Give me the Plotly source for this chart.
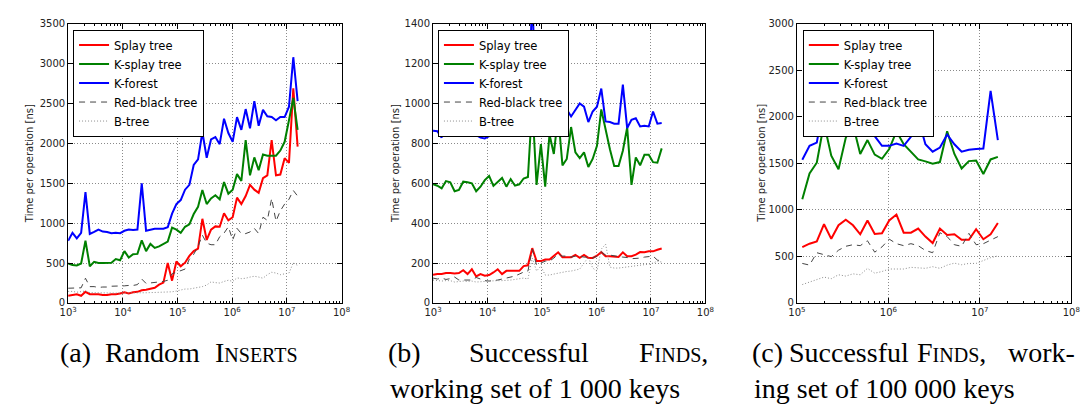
import plotly.graph_objects as go

# problem sizes (number of keys), same grid for all three panels
sizes = [1000, 1200, 1440, 1728, 2074, 2488, 2986, 3583, 4300, 5160,
         6192, 7430, 8916, 10699, 12839, 15407, 18488, 22186, 26623, 31948,
         38338, 46005, 55206, 66247, 79497, 95396, 114475, 137371, 164845, 197814,
         237376, 284852, 341822, 410186, 492224, 590668, 708802, 850562, 1020675, 1224810,
         1469772, 1763726, 2116471, 2539765, 3047718, 3657262, 4388714, 5266457, 6319749, 7583698,
         9100438, 10920526, 13104631, 15725557]

# (a) random inserts, time per operation [ns]
ins_splay = [90, 100, 110, 90, 140, 110, 110, 110, 100, 100,
             110, 110, 120, 135, 120, 135, 140, 160, 165, 175,
             190, 230, 255, 500, 280, 520, 460, 505, 590, 650,
             680, 1055, 790, 920, 960, 955, 1125, 1035, 1075, 1320,
             1240, 1340, 1480, 1420, 1380, 1565, 1600, 2040, 1600, 1610,
             1815, 1755, 2690, 1960]
ins_ksplay = [495, 475, 470, 495, 780, 460, 515, 500, 500, 500,
              505, 550, 535, 650, 570, 610, 615, 785, 650, 740,
              690, 710, 740, 770, 945, 920, 880, 955, 985, 1115,
              1205, 1415, 1240, 1310, 1350, 1300, 1515, 1370, 1420, 1615,
              1530, 2040, 1600, 1825, 1665, 1860, 1845, 1845, 1845, 1910,
              2020, 2290, 2570, 2170]
ins_kforest = [780, 880, 810, 880, 1390, 865, 890, 920, 895, 890,
               875, 880, 875, 905, 920, 915, 920, 1500, 905, 920,
               930, 930, 930, 950, 1120, 1240, 1290, 1420, 1480, 1730,
               1800, 2140, 1820, 2050, 2080, 1990, 2310, 2130, 2020, 2330,
               2170, 2430, 2190, 2530, 2220, 2420, 2340, 2330, 2290, 2330,
               2330, 2460, 3080, 2530]
ins_rb = [185, 185, 190, 190, 310, 205, 205, 195, 200, 200,
          210, 210, 215, 215, 220, 220, 230, 300, 245, 250,
          255, 265, 270, 285, 365, 385, 405, 425, 550, 610,
          710, 850, 750, 730, 730, 830, 875, 955, 790, 935,
          870, 870, 890, 935, 870, 1075, 1035, 1310, 1025, 1155,
          1240, 1300, 1410, 1340]
ins_btree = [145, 145, 135, 145, 150, 130, 128, 128, 126, 126,
             125, 124, 126, 128, 128, 128, 125, 128, 128, 130,
             130, 132, 133, 140, 140, 150, 160, 175, 175, 185,
             190, 205, 225, 265, 255, 250, 270, 285, 270, 315,
             305, 310, 325, 335, 325, 310, 355, 385, 375, 355,
             365, 375, 505, 470]

# (b) successful finds, working set of 1 000 keys
fnd1_splay = [141, 145, 145, 150, 150, 148, 150, 164, 145, 169,
              133, 145, 137, 140, 153, 169, 145, 161, 161, 161,
              161, 185, 189, 275, 210, 210, 218, 218, 234, 254,
              229, 229, 229, 241, 226, 241, 226, 226, 237, 255,
              234, 234, 233, 231, 254, 234, 234, 242, 255, 254,
              259, 259, 267, 273]
fnd1_ksplay = [595, 588, 575, 611, 605, 560, 567, 608, 605, 600,
               560, 583, 616, 637, 587, 608, 627, 583, 621, 588,
               595, 624, 632, 1000, 592, 796, 583, 845, 747, 943,
               690, 722, 882, 755, 726, 755, 682, 722, 788, 970,
               861, 771, 687, 687, 763, 880, 592, 730, 690, 743,
               743, 706, 703, 775]
fnd1_kforest = [864, 861, 829, 910, 915, 873, 845, 860, 860, 910,
                842, 829, 825, 837, 848, 861, 870, 882, 870, 873,
                935, 873, 880, 1550, 870, 894, 894, 992, 967, 950,
                984, 970, 935, 967, 1000, 984, 907, 960, 984, 1075,
                910, 907, 899, 899, 1095, 877, 918, 926, 885, 889,
                885, 960, 899, 902]
fnd1_rb = [125, 120, 125, 118, 122, 130, 115, 115, 118, 115,
           128, 118, 112, 110, 112, 115, 120, 125, 128, 135,
           145, 155, 160, 270, 190, 200, 210, 210, 225, 245,
           235, 235, 230, 235, 235, 230, 230, 225, 235, 255,
           240, 240, 235, 233, 230, 228, 222, 222, 225, 230,
           232, 235, 215, 210]
fnd1_btree = [115, 112, 110, 112, 112, 105, 108, 110, 108, 110,
              105, 105, 108, 110, 112, 112, 112, 112, 115, 118,
              122, 125, 120, 225, 160, 185, 140, 140, 145, 150,
              155, 158, 160, 165, 170, 200, 230, 175, 160, 270,
              295, 180, 175, 175, 178, 180, 182, 185, 188, 190,
              195, 200, 210, 205]

# (c) successful finds, working set of 100 000 keys (starts at sizes[26])
fnd2_splay = [600, 637, 661, 846, 689, 835, 894, 835, 738, 887,
              741, 748, 887, 950, 755, 755, 800, 713, 644, 800,
              731, 738, 679, 679, 793, 685, 738, 860]
fnd2_ksplay = [1114, 1392, 1507, 1931, 1583, 1437, 1775, 1914, 1601, 1750,
               1594, 1549, 1653, 1844, 1705, 1625, 1542, 1521, 1496, 1514,
               1844, 1601, 1444, 1524, 1531, 1385, 1542, 1569]
fnd2_kforest = [1538, 1688, 1723, 2150, 1850, 2150, 2001, 1949, 1855, 1938,
                1792, 1688, 1688, 1712, 1688, 1785, 1984, 1705, 1625, 1670,
                1810, 1705, 1625, 1646, 1653, 1660, 2279, 1750]
fnd2_rb = [425, 407, 540, 522, 498, 567, 609, 626, 616, 668,
           546, 602, 686, 637, 616, 637, 616, 564, 540, 755,
           713, 626, 609, 748, 626, 637, 679, 713]
fnd2_btree = [198, 226, 250, 278, 261, 303, 289, 313, 303, 372,
              320, 338, 365, 365, 365, 383, 376, 372, 390, 372,
              407, 428, 411, 425, 425, 452, 487, 505]

names = ["Splay tree", "K-splay tree", "K-forest", "Red-black tree", "B-tree"]

W, H = 1092, 409


def px_x(x):
    return x / W


def px_y(y):
    return 1 - y / H


styles = [
    dict(color="#ff0000", width=2),
    dict(color="#008000", width=2),
    dict(color="#0000ff", width=2),
    dict(color="#444444", width=1, dash="6px,5px"),
    dict(color="#8c8c8c", width=1, dash="1px,2px"),
]

panels = [
    (sizes, [ins_splay, ins_ksplay, ins_kforest, ins_rb, ins_btree]),
    (sizes, [fnd1_splay, fnd1_ksplay, fnd1_kforest, fnd1_rb, fnd1_btree]),
    (sizes[26:], [fnd2_splay, fnd2_ksplay, fnd2_kforest, fnd2_rb, fnd2_btree]),
]

# pixel geometry of each panel
x_px = [(52, 330), (423, 700), (793, 1072)]
x_exp = [(3, 8), (3, 8), (5, 8)]
y_max = [3500, 1400, 3000]
y_step = [500, 200, 500]
legend_left = [57, 428, 799]
ytitle_x = [13, 385, 757]

tick_font = dict(family="DejaVu Sans", size=10, color="#222222")
grid = dict(showgrid=True, gridcolor="#8a8a8a", griddash="1px,2px", gridwidth=1)

fig = go.Figure()
layout = dict(
    width=W, height=H,
    margin=dict(l=0, r=0, t=0, b=0),
    paper_bgcolor="white", plot_bgcolor="white",
    annotations=[],
)

for i, (xs, series) in enumerate(panels):
    n = "" if i == 0 else str(i + 1)
    for name, ys, st in zip(names, series, styles):
        fig.add_trace(go.Scatter(
            x=xs, y=ys, mode="lines", name=name, line=st,
            xaxis="x" + n, yaxis="y" + n, legend="legend" + n,
        ))

    lo, hi = x_exp[i]
    layout["xaxis" + n] = dict(
        type="log", range=[lo, hi],
        domain=[px_x(x_px[i][0]), px_x(x_px[i][1])], anchor="y" + n,
        tickmode="array",
        tickvals=[10 ** e for e in range(lo, hi + 1)],
        ticktext=["10<sup>%d</sup>" % e for e in range(lo, hi + 1)],
        ticks="inside", ticklen=5, tickcolor="black",
        showline=True, linecolor="black", linewidth=1, mirror="allticks",
        zeroline=False, tickfont=tick_font,
        minor=dict(ticks="inside", ticklen=2, tickcolor="black", dtick="D1", showgrid=False),
        **grid,
    )
    layout["yaxis" + n] = dict(
        range=[0, y_max[i]], dtick=y_step[i],
        domain=[px_y(298), px_y(11)], anchor="x" + n,
        ticks="inside", ticklen=5, tickcolor="black",
        showline=True, linecolor="black", linewidth=1, mirror="allticks",
        zeroline=False, tickfont=tick_font,
        **grid,
    )
    layout["legend" + n] = dict(
        x=px_x(legend_left[i]), y=px_y(17), xanchor="left", yanchor="top",
        bgcolor="white", bordercolor="black", borderwidth=1,
        font=dict(family="DejaVu Sans", size=11.5, color="black"),
        tracegroupgap=0,
    )
    layout["annotations"].append(dict(
        text="Time per operation [ns]", textangle=-90,
        x=px_x(ytitle_x[i]), y=px_y(154.5), xref="paper", yref="paper",
        xanchor="center", yanchor="middle", showarrow=False,
        font=dict(family="DejaVu Sans", size=10, color="#222222"),
    ))

# captions under the panels (LaTeX style, small caps faked with smaller text)
sc = '<span style="font-size:20px">%s</span>'
caption_words = [
    ("(a)", 42, 349, "left"), ("Random", 87, 349, "left"),
    ("I" + sc % "NSERTS", 199, 349, "left"),
    ("(b)", 375, 349, "left"), ("Successful", 458, 349, "left"),
    ("F" + sc % "INDS" + ",", 630, 349, "left"),
    ("working set of 1 000 keys", 377, 386, "left"),
    ("(c)", 745, 349, "left"), ("Successful", 783, 349, "left"),
    ("F" + sc % "INDS" + ",", 913, 349, "left"),
    ("work-", 1078, 349, "right"),
    ("ing set of 100 000 keys", 747, 386, "left"),
]
for text, x, y, anchor in caption_words:
    layout["annotations"].append(dict(
        text=text, x=px_x(x), y=px_y(y), xref="paper", yref="paper",
        xanchor=anchor, yanchor="middle", showarrow=False,
        font=dict(family="Liberation Serif", size=28, color="black"),
    ))

fig.update_layout(**layout)
fig.write_html("out.html")
